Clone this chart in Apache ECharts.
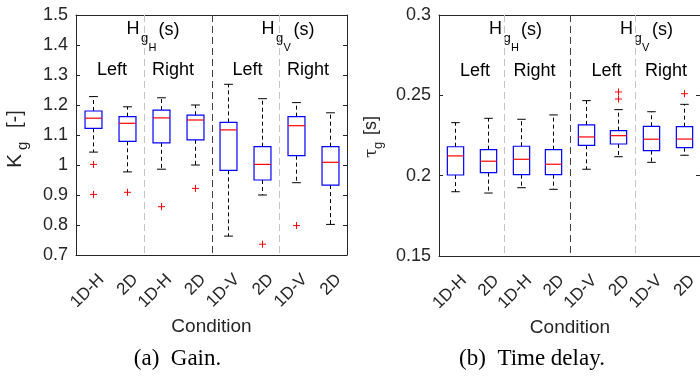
<!DOCTYPE html>
<html><head><meta charset="utf-8">
<script src="https://cdn.jsdelivr.net/npm/echarts@6/dist/echarts.min.js"></script>
<style>html,body{margin:0;padding:0;background:#fff}#c{width:700px;height:376px}</style>
</head><body><div id="c"></div>
<script>
// ---------- data ----------
const categories = ['1D-H', '2D', '1D-H', '2D', '1D-V', '2D', '1D-V', '2D'];
// [lower whisker, Q1, median, Q3, upper whisker]
const gainBoxes = [
  [1.043, 1.122, 1.156, 1.180, 1.228],
  [0.977, 1.079, 1.139, 1.161, 1.194],
  [0.986, 1.074, 1.157, 1.183, 1.224],
  [1.000, 1.084, 1.150, 1.166, 1.200],
  [0.763, 0.982, 1.117, 1.142, 1.269],
  [0.900, 0.950, 1.002, 1.061, 1.221],
  [0.941, 1.031, 1.131, 1.161, 1.208],
  [0.802, 0.933, 1.009, 1.061, 1.174]
];
// [category index, value]
const gainOutliers = [[0, 1.002], [0, 0.902], [1, 0.909], [2, 0.861], [3, 0.922], [5, 0.736], [6, 0.798]];
const delayBoxes = [
  [0.1900, 0.2004, 0.2123, 0.2180, 0.2330],
  [0.1892, 0.2019, 0.2090, 0.2162, 0.2357],
  [0.1925, 0.2006, 0.2102, 0.2183, 0.2351],
  [0.1915, 0.2006, 0.2071, 0.2162, 0.2378],
  [0.2040, 0.2189, 0.2241, 0.2316, 0.2467],
  [0.2118, 0.2197, 0.2249, 0.2280, 0.2411],
  [0.2083, 0.2156, 0.2227, 0.2307, 0.2398],
  [0.2127, 0.2174, 0.2228, 0.2305, 0.2444]
];
const delayOutliers = [[5, 0.2521], [5, 0.2477], [7, 0.2510]];
const gainRange = [0.7, 1.5, 0.1];
const delayRange = [0.15, 0.3, 0.05];
// dividers sit after these category indices; kind 0 = light, 1 = dark
const dividerAfter = [1, 3, 5];
const dividerKind = [0, 1, 0];
const groupLabels = ['Left', 'Right', 'Left', 'Right'];

// ---------- rendering ----------
const FONT = "'Liberation Sans', Arial, Helvetica, sans-serif";
const AX = '#262626';
const chart = echarts.init(document.getElementById('c'), null, {renderer: 'canvas'});

function renderBox(params, api) {
  const i = api.value(0);
  const lo = api.coord([i, api.value(1)]);
  const q1 = api.coord([i, api.value(2)]);
  const md = api.coord([i, api.value(3)]);
  const q3 = api.coord([i, api.value(4)]);
  const hi = api.coord([i, api.value(5)]);
  const band = api.size([1, 0])[0];
  const bw = band * 0.5, cw = band * 0.26;
  const x = Math.round(lo[0]) + 0.5;
  const dash = {stroke: '#000', lineWidth: 1, lineDash: [4, 3]};
  const solid = {stroke: '#000', lineWidth: 1};
  return {type: 'group', children: [
    {type: 'line', shape: {x1: x, y1: q3[1], x2: x, y2: hi[1]}, style: dash},
    {type: 'line', shape: {x1: x, y1: q1[1], x2: x, y2: lo[1]}, style: dash},
    {type: 'line', shape: {x1: x - cw / 2, y1: hi[1], x2: x + cw / 2, y2: hi[1]}, style: solid},
    {type: 'line', shape: {x1: x - cw / 2, y1: lo[1], x2: x + cw / 2, y2: lo[1]}, style: solid},
    {type: 'rect', shape: {x: x - bw / 2, y: q3[1], width: bw, height: q1[1] - q3[1]},
      style: {fill: '#fff', stroke: '#0000ff', lineWidth: 1.2}},
    {type: 'line', shape: {x1: x - bw / 2, y1: md[1], x2: x + bw / 2, y2: md[1]}, style: {stroke: '#ff0000', lineWidth: 1.2}}
  ]};
}
function renderPlus(params, api) {
  const p = api.coord([api.value(0), api.value(1)]);
  const s = 3.5, x = Math.round(p[0]) + 0.5;
  const st = {stroke: '#ff0000', lineWidth: 1};
  return {type: 'group', children: [
    {type: 'line', shape: {x1: x - s, y1: p[1], x2: x + s, y2: p[1]}, style: st},
    {type: 'line', shape: {x1: x, y1: p[1] - s, x2: x, y2: p[1] + s}, style: st}
  ]};
}
function renderDivider(params, api) {
  const cs = params.coordSys;
  const band = api.size([1, 0])[0];
  const p = api.coord([api.value(0), api.value(1)]);
  const x = Math.round(p[0] + band / 2) + 0.5;
  const dark = api.value(2) === 1;
  return {type: 'line', shape: {x1: x, y1: cs.y, x2: x, y2: cs.y + cs.height},
    style: {stroke: dark ? '#404040' : '#c4c4c4', lineWidth: 1, lineDash: [7, 4]}};
}
// rotated category labels, anchored at the tick through the axis scale
function renderXLabel(params, api) {
  const i = api.value(0);
  const p = api.coord([i, api.value(1)]);
  return {type: 'text', x: p[0] + 8.5, y: p[1] + 22, rotation: Math.PI / 4, silent: true,
    style: {text: categories[i], fontSize: 17, fontFamily: FONT, fill: AX, align: 'right', verticalAlign: 'middle'}};
}

function xAxes(gi) {
  return [
    {type: 'category', gridIndex: gi, data: categories, position: 'bottom',
      axisLine: {lineStyle: {color: AX, width: 1}},
      axisTick: {inside: true, alignWithLabel: true, length: 4, lineStyle: {color: AX}},
      axisLabel: {show: false},
      splitLine: {show: false}},
    {type: 'category', gridIndex: gi, data: categories, position: 'top',
      axisLine: {lineStyle: {color: AX, width: 1}},
      axisTick: {inside: true, alignWithLabel: true, length: 4, lineStyle: {color: AX}},
      axisLabel: {show: false}, splitLine: {show: false}}
  ];
}
function yAxes(gi, r, fmt) {
  const base = {type: 'value', gridIndex: gi, min: r[0], max: r[1], interval: r[2],
    axisLine: {show: true, lineStyle: {color: AX, width: 1}},
    axisTick: {show: true, inside: true, length: 4, lineStyle: {color: AX}},
    splitLine: {show: false}};
  return [
    Object.assign({}, base, {position: 'left',
      axisLabel: {fontSize: 18, fontFamily: FONT, color: AX, margin: 8, formatter: fmt}}),
    Object.assign({}, base, {position: 'right', axisLabel: {show: false}})
  ];
}

function seriesFor(gi, boxes, outliers, yMin) {
  return [
    {type: 'custom', xAxisIndex: gi * 2, yAxisIndex: gi * 2, renderItem: renderDivider, z: 1,
      data: dividerAfter.map((d, k) => [d, yMin, dividerKind[k]]), encode: {x: 0, y: 1}, silent: true},
    {type: 'custom', xAxisIndex: gi * 2, yAxisIndex: gi * 2, renderItem: renderBox, z: 2,
      data: boxes.map((b, i) => [i].concat(b)), encode: {x: 0, y: [1, 2, 3, 4, 5]}},
    {type: 'custom', xAxisIndex: gi * 2, yAxisIndex: gi * 2, renderItem: renderPlus, z: 3,
      data: outliers, encode: {x: 0, y: 1}},
    {type: 'custom', xAxisIndex: gi * 2, yAxisIndex: gi * 2, renderItem: renderXLabel, z: 3, clip: false,
      data: categories.map((c, i) => [i, yMin]), encode: {x: 0, y: 1}, silent: true}
  ];
}

function txt(x, y, s, size) {
  return {type: 'text', x: x, y: y, silent: true,
    style: {text: s, fontSize: size, fontFamily: FONT, fill: '#000', align: 'left', verticalAlign: 'middle'}};
}
function hLabel(x, sub) {
  return [
    txt(x, 29, 'H', 18),
    txt(x + 14.5, 38.5, 'g', 13),
    txt(x + 22, 48, sub, 11),
    txt(x + 32, 30, '(s)', 18)
  ];
}
function center(x, y, s, size, family, color) {
  return {type: 'text', x: x, y: y, silent: true,
    style: {text: s, fontSize: size, fontFamily: family || FONT, fill: color || '#000', align: 'center', verticalAlign: 'middle'}};
}

const graphics = [].concat(
  hLabel(126.5, 'H'), hLabel(261.5, 'V'), hLabel(489, 'H'), hLabel(620, 'V'),
  [
    center(112, 70, groupLabels[0], 18), center(173, 70, groupLabels[1], 18),
    center(247.5, 70, groupLabels[2], 18), center(308, 70, groupLabels[3], 18),
    center(475, 71, groupLabels[0], 18), center(534.5, 71, groupLabels[1], 18),
    center(606.5, 71, groupLabels[2], 18), center(666, 71, groupLabels[3], 18),
    center(211.5, 327, 'Condition', 19, FONT, AX),
    center(570, 328, 'Condition', 19, FONT, AX),
    center(177.5, 359, '(a)  Gain.', 23, "'Liberation Serif', 'Times New Roman', serif", '#000'),
    center(532, 359, '(b)  Time delay.', 23, "'Liberation Serif', 'Times New Roman', serif", '#000'),
    {type: 'group', x: 15, y: 168, rotation: Math.PI / 2, children: [
      {type: 'text', x: 0, y: 0, style: {text: 'K', fontSize: 21, fontFamily: FONT, fill: AX, align: 'left', verticalAlign: 'middle'}},
      {type: 'text', x: 18, y: 8, style: {text: 'g', fontSize: 15, fontFamily: FONT, fill: AX, align: 'left', verticalAlign: 'middle'}},
      {type: 'text', x: 40, y: 0, style: {text: '[-]', fontSize: 20, fontFamily: FONT, fill: AX, align: 'left', verticalAlign: 'middle'}}
    ]},
    {type: 'group', x: 371, y: 158, rotation: Math.PI / 2, children: [
      {type: 'text', x: 0, y: 1, style: {text: 'τ', fontSize: 17, fontFamily: "'DejaVu Serif', serif", fill: AX, align: 'left', verticalAlign: 'middle'}},
      {type: 'text', x: 9, y: 7, style: {text: 'g', fontSize: 13, fontFamily: FONT, fill: AX, align: 'left', verticalAlign: 'middle'}},
      {type: 'text', x: 23, y: 0, style: {text: '[s]', fontSize: 18, fontFamily: FONT, fill: AX, align: 'left', verticalAlign: 'middle'}}
    ]}
  ]
);

const fmtGain = v => String(Math.round(v * 10) / 10);
const fmtDelay = v => String(Math.round(v * 100) / 100);

chart.setOption({
  animation: false,
  backgroundColor: '#fff',
  grid: [
    {left: 76, top: 15, width: 271, height: 240},
    {left: 439, top: 15, width: 262, height: 241}
  ],
  xAxis: xAxes(0).concat(xAxes(1)),
  yAxis: yAxes(0, gainRange, fmtGain).concat(yAxes(1, delayRange, fmtDelay)),
  series: seriesFor(0, gainBoxes, gainOutliers, gainRange[0]).concat(seriesFor(1, delayBoxes, delayOutliers, delayRange[0])),
  graphic: graphics
});
</script></body></html>
